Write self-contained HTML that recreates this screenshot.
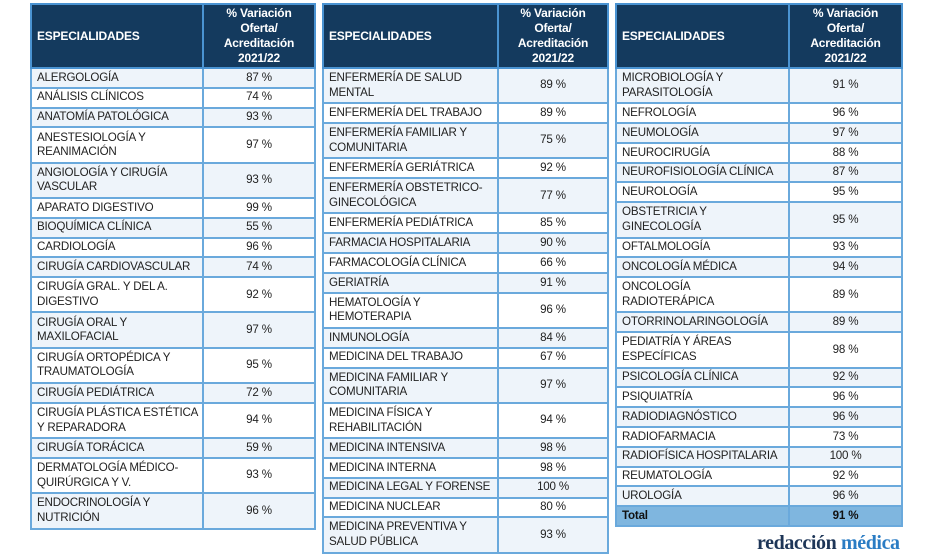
<!DOCTYPE html>
<html><head><meta charset="utf-8"><style>
body{margin:0;width:940px;height:558px;background:#fff;position:relative;overflow:hidden;font-family:"Liberation Sans",sans-serif;}
table{position:absolute;border-collapse:collapse;table-layout:fixed;border:2px solid #4a93d2;}
td,th{border:2px solid #6aa9dc;font-size:11.6px;color:#222;padding:0 0 0 5px;line-height:14.5px;letter-spacing:-0.2px;}
td.v{text-align:center;padding:0;}
tr{height:19.8px}
tr.d{height:35.3px}
tr:nth-child(even) td{background:#eef4fa}
th{background:#143a5e;color:#fff;font-weight:bold;text-align:left;height:62px;border-color:#4a93d2;font-size:12px}
th.v{text-align:center;padding:0;line-height:15px}
tr.tot td{background:#7fb6df!important;font-weight:bold;color:#111}
.logo{position:absolute;left:757px;top:532px;font-family:"Liberation Serif",serif;font-weight:bold;font-size:20px;color:#1d3557;letter-spacing:-0.4px}
.logo span{color:#2a7cc4}
</style></head><body>
<table style="left:30px;top:3px;width:286px"><colgroup><col style="width:172px"><col></colgroup>
<tr><th>ESPECIALIDADES</th><th class="v">% Variación<br>Oferta/<br>Acreditación<br>2021/22</th></tr>
<tr><td>ALERGOLOGÍA</td><td class="v">87 %</td></tr>
<tr><td>ANÁLISIS CLÍNICOS</td><td class="v">74 %</td></tr>
<tr><td>ANATOMÍA PATOLÓGICA</td><td class="v">93 %</td></tr>
<tr class="d"><td>ANESTESIOLOGÍA Y<br>REANIMACIÓN</td><td class="v">97 %</td></tr>
<tr class="d"><td>ANGIOLOGÍA Y CIRUGÍA<br>VASCULAR</td><td class="v">93 %</td></tr>
<tr><td>APARATO DIGESTIVO</td><td class="v">99 %</td></tr>
<tr><td>BIOQUÍMICA CLÍNICA</td><td class="v">55 %</td></tr>
<tr><td>CARDIOLOGÍA</td><td class="v">96 %</td></tr>
<tr><td>CIRUGÍA CARDIOVASCULAR</td><td class="v">74 %</td></tr>
<tr class="d"><td>CIRUGÍA GRAL. Y DEL A.<br>DIGESTIVO</td><td class="v">92 %</td></tr>
<tr class="d"><td>CIRUGÍA ORAL Y<br>MAXILOFACIAL</td><td class="v">97 %</td></tr>
<tr class="d"><td>CIRUGÍA ORTOPÉDICA Y<br>TRAUMATOLOGÍA</td><td class="v">95 %</td></tr>
<tr><td>CIRUGÍA PEDIÁTRICA</td><td class="v">72 %</td></tr>
<tr class="d"><td>CIRUGÍA PLÁSTICA ESTÉTICA<br>Y REPARADORA</td><td class="v">94 %</td></tr>
<tr><td>CIRUGÍA TORÁCICA</td><td class="v">59 %</td></tr>
<tr class="d"><td>DERMATOLOGÍA MÉDICO-<br>QUIRÚRGICA Y V.</td><td class="v">93 %</td></tr>
<tr class="d"><td>ENDOCRINOLOGÍA Y<br>NUTRICIÓN</td><td class="v">96 %</td></tr>
</table>
<table style="left:322px;top:3px;width:287px"><colgroup><col style="width:175px"><col></colgroup>
<tr><th>ESPECIALIDADES</th><th class="v">% Variación<br>Oferta/<br>Acreditación<br>2021/22</th></tr>
<tr class="d"><td>ENFERMERÍA DE SALUD<br>MENTAL</td><td class="v">89 %</td></tr>
<tr><td>ENFERMERÍA DEL TRABAJO</td><td class="v">89 %</td></tr>
<tr class="d"><td>ENFERMERÍA FAMILIAR Y<br>COMUNITARIA</td><td class="v">75 %</td></tr>
<tr><td>ENFERMERÍA GERIÁTRICA</td><td class="v">92 %</td></tr>
<tr class="d"><td>ENFERMERÍA OBSTETRICO-<br>GINECOLÓGICA</td><td class="v">77 %</td></tr>
<tr><td>ENFERMERÍA PEDIÁTRICA</td><td class="v">85 %</td></tr>
<tr><td>FARMACIA HOSPITALARIA</td><td class="v">90 %</td></tr>
<tr><td>FARMACOLOGÍA CLÍNICA</td><td class="v">66 %</td></tr>
<tr><td>GERIATRÍA</td><td class="v">91 %</td></tr>
<tr class="d"><td>HEMATOLOGÍA Y<br>HEMOTERAPIA</td><td class="v">96 %</td></tr>
<tr><td>INMUNOLOGÍA</td><td class="v">84 %</td></tr>
<tr><td>MEDICINA DEL TRABAJO</td><td class="v">67 %</td></tr>
<tr class="d"><td>MEDICINA FAMILIAR Y<br>COMUNITARIA</td><td class="v">97 %</td></tr>
<tr class="d"><td>MEDICINA FÍSICA Y<br>REHABILITACIÓN</td><td class="v">94 %</td></tr>
<tr><td>MEDICINA INTENSIVA</td><td class="v">98 %</td></tr>
<tr><td>MEDICINA INTERNA</td><td class="v">98 %</td></tr>
<tr><td>MEDICINA LEGAL Y FORENSE</td><td class="v">100 %</td></tr>
<tr><td>MEDICINA NUCLEAR</td><td class="v">80 %</td></tr>
<tr class="d"><td>MEDICINA PREVENTIVA Y<br>SALUD PÚBLICA</td><td class="v">93 %</td></tr>
</table>
<table style="left:615px;top:3px;width:288px"><colgroup><col style="width:173px"><col></colgroup>
<tr><th>ESPECIALIDADES</th><th class="v">% Variación<br>Oferta/<br>Acreditación<br>2021/22</th></tr>
<tr class="d"><td>MICROBIOLOGÍA Y<br>PARASITOLOGÍA</td><td class="v">91 %</td></tr>
<tr><td>NEFROLOGÍA</td><td class="v">96 %</td></tr>
<tr><td>NEUMOLOGÍA</td><td class="v">97 %</td></tr>
<tr><td>NEUROCIRUGÍA</td><td class="v">88 %</td></tr>
<tr><td>NEUROFISIOLOGÍA CLÍNICA</td><td class="v">87 %</td></tr>
<tr><td>NEUROLOGÍA</td><td class="v">95 %</td></tr>
<tr class="d"><td>OBSTETRICIA Y<br>GINECOLOGÍA</td><td class="v">95 %</td></tr>
<tr><td>OFTALMOLOGÍA</td><td class="v">93 %</td></tr>
<tr><td>ONCOLOGÍA MÉDICA</td><td class="v">94 %</td></tr>
<tr class="d"><td>ONCOLOGÍA<br>RADIOTERÁPICA</td><td class="v">89 %</td></tr>
<tr><td>OTORRINOLARINGOLOGÍA</td><td class="v">89 %</td></tr>
<tr class="d"><td>PEDIATRÍA Y ÁREAS<br>ESPECÍFICAS</td><td class="v">98 %</td></tr>
<tr><td>PSICOLOGÍA CLÍNICA</td><td class="v">92 %</td></tr>
<tr><td>PSIQUIATRÍA</td><td class="v">96 %</td></tr>
<tr><td>RADIODIAGNÓSTICO</td><td class="v">96 %</td></tr>
<tr><td>RADIOFARMACIA</td><td class="v">73 %</td></tr>
<tr><td>RADIOFÍSICA HOSPITALARIA</td><td class="v">100 %</td></tr>
<tr><td>REUMATOLOGÍA</td><td class="v">92 %</td></tr>
<tr><td>UROLOGÍA</td><td class="v">96 %</td></tr>
<tr class="tot"><td>Total</td><td class="v">91 %</td></tr>
</table>
<div class="logo">redacción <span>médica</span></div>
</body></html>
